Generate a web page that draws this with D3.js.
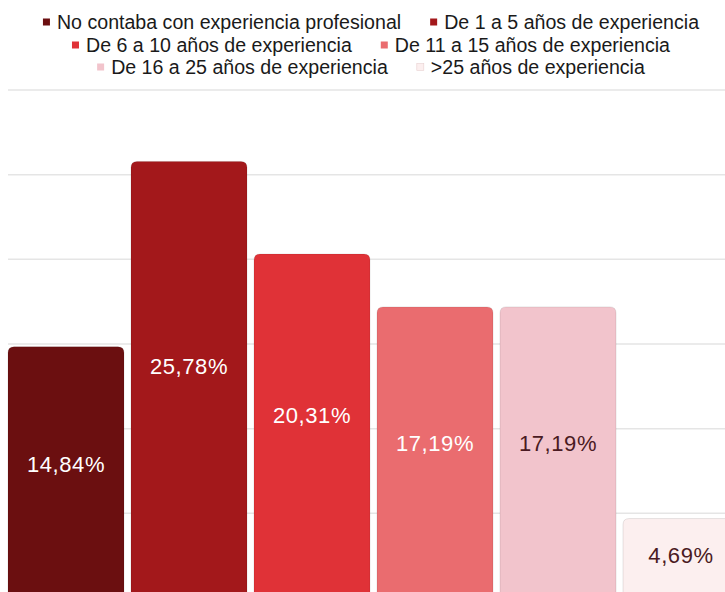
<!DOCTYPE html>
<html>
<head>
<meta charset="utf-8">
<script src="https://cdn.jsdelivr.net/npm/d3@7"></script>
<style>
html,body{margin:0;padding:0;background:#fff;overflow:hidden;}
svg{display:block;}
</style>
</head>
<body>
<svg id="chart" width="725" height="592"></svg>
<script>
const categories = [
  "No contaba con experiencia profesional",
  "De 1 a 5 años de experiencia",
  "De 6 a 10 años de experiencia",
  "De 11 a 15 años de experiencia",
  "De 16 a 25 años de experiencia",
  ">25 años de experiencia"
];
const values = [14.84, 25.78, 20.31, 17.19, 17.19, 4.69];
const colors = ["#6b0f10", "#a3181b", "#e03237", "#ea6c6f", "#f2c4cc", "#fcefef"];
const labelColors = ["#ffffff", "#ffffff", "#ffffff", "#ffffff", "#4a1a22", "#4a1a22"];
const yTicks = [0, 5, 10, 15, 20, 25, 30];
const legendRows = [[0, 1], [2, 3], [4, 5]];

const svg = d3.select("#chart");
const W = 725;

const x = d3.scaleBand().domain(categories).range([8, 739]).paddingInner(7 / 123).paddingOuter(0);
const y = d3.scaleLinear().domain([0, 30]).range([598, 90]);

// gridlines
svg.append("g").selectAll("line").data(yTicks).join("line")
  .attr("x1", 8).attr("x2", W)
  .attr("y1", d => y(d)).attr("y2", d => y(d))
  .attr("stroke", "#e5e5e5").attr("stroke-width", 1.5);

// bars with rounded top corners
function barPath(x0, y0, w, h, r) {
  return `M${x0},${y0 + h}V${y0 + r}Q${x0},${y0} ${x0 + r},${y0}H${x0 + w - r}Q${x0 + w},${y0} ${x0 + w},${y0 + r}V${y0 + h}Z`;
}
svg.append("g").selectAll("path").data(values).join("path")
  .attr("d", (d, i) => barPath(x(categories[i]), y(d), x.bandwidth(), y(0) - y(d), 6))
  .attr("fill", (d, i) => colors[i])
  .attr("stroke", "rgba(0,0,0,0.12)").attr("stroke-width", 0.8);

// value labels
const fmt = v => v.toFixed(2).replace(".", ",") + "%";
svg.append("g").selectAll("text").data(values).join("text")
  .attr("x", (d, i) => x(categories[i]) + x.bandwidth() / 2)
  .attr("y", d => y(d) + 0.47 * (y(0) - y(d)))
  .attr("text-anchor", "middle").attr("dominant-baseline", "central")
  .attr("font-family", "'Liberation Sans', Arial, sans-serif")
  .attr("font-size", 22)
  .attr("letter-spacing", 0.6)
  .attr("fill", (d, i) => labelColors[i])
  .text(d => fmt(d));

// legend
const lg = svg.append("g").attr("font-family", "'Liberation Sans', Arial, sans-serif").attr("font-size", 19.6).attr("fill", "#1a1a1a");
const rowY = [22, 45, 67];
const cx = 371, sq = 7, gapText = 7, gapItem = 29;
legendRows.forEach((row, ri) => {
  const g = lg.append("g");
  let cur = 0;
  row.forEach((ci, k) => {
    const it = g.append("g").attr("transform", `translate(${cur},0)`);
    it.append("rect").attr("x", 0).attr("y", rowY[ri] - sq / 2).attr("width", sq).attr("height", sq)
      .attr("fill", colors[ci]).attr("stroke", ci === 5 ? "#e8d0d0" : "none").attr("stroke-width", 0.6);
    const t = it.append("text").attr("x", sq + gapText).attr("y", rowY[ri]).attr("dominant-baseline", "central").text(categories[ci]);
    cur += sq + gapText + t.node().getComputedTextLength() + gapItem;
  });
  const total = cur - gapItem;
  g.attr("transform", `translate(${cx - total / 2},0)`);
});
</script>
</body>
</html>
